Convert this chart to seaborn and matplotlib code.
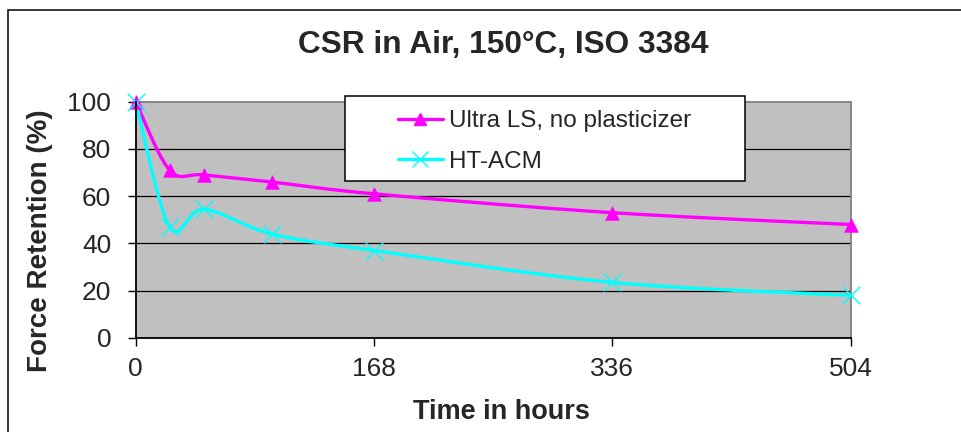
import numpy as np
import pandas as pd
import matplotlib
matplotlib.use("Agg")
import matplotlib.pyplot as plt
from matplotlib.lines import Line2D
from matplotlib.patches import Rectangle
import seaborn as sns

# data
hours = [0, 24, 48, 96, 168, 336, 504]
ultra_ls = [100, 71, 69, 66, 61, 53, 48]
ht_acm = [100, 47, 54.5, 44, 37, 23.5, 18]
series_names = ["Ultra LS, no plasticizer", "HT-ACM"]
x_ticks = [0, 168, 336, 504]
y_ticks = [0, 20, 40, 60, 80, 100]

MAGENTA = "#FF00FF"
CYAN = "#00FFFF"
W, H = 962, 432


def smooth(xs, ys, n=40):
    # Excel-style smoothed line: bezier segments, catmull-rom control points
    p = np.column_stack([xs, ys]).astype(float)
    p = np.vstack([p[0], p, p[-1]])
    out = []
    for i in range(1, len(p) - 2):
        p0, p1, p2, p3 = p[i - 1], p[i], p[i + 1], p[i + 2]
        c1 = p1 + (p2 - p0) / 6
        c2 = p2 - (p3 - p1) / 6
        t = np.linspace(0, 1, n)[:, None]
        seg = ((1 - t) ** 3) * p1 + 3 * ((1 - t) ** 2) * t * c1 + 3 * (1 - t) * t ** 2 * c2 + t ** 3 * p2
        out.append(seg if i == 1 else seg[1:])
    seg = np.vstack(out)
    return seg[:, 0], seg[:, 1]


sns.set_style("white")
plt.rcParams["font.family"] = ["Liberation Sans", "DejaVu Sans"]

fig = plt.figure(figsize=(W / 100, H / 100), dpi=100)
ax = fig.add_axes([135.7 / W, 1 - 337.9 / H, 715 / W, 236.2 / H])
ax.set_facecolor("#C0C0C0")

for vals, color in [(ultra_ls, MAGENTA), (ht_acm, CYAN)]:
    sx, sy = smooth(hours, vals)
    curve = pd.DataFrame({"x": sx, "y": sy})
    sns.lineplot(data=curve, x="x", y="y", sort=False, estimator=None,
                 color=color, linewidth=2.4, ax=ax, zorder=3)

pts = pd.DataFrame({"x": hours, "ultra": ultra_ls, "ht": ht_acm})
sns.scatterplot(data=pts, x="x", y="ultra", marker="^", s=95, color=MAGENTA,
                edgecolor=MAGENTA, linewidth=0.5, ax=ax, zorder=4, clip_on=False)
sns.scatterplot(data=pts, x="x", y="ht", marker="x", s=160, color=CYAN,
                linewidth=1.0, ax=ax, zorder=4, clip_on=False)

ax.set_xlim(0, 504)
ax.set_ylim(0, 100)
ax.set_xticks(x_ticks)
ax.set_yticks(y_ticks)
ax.set_xlabel("")
ax.set_ylabel("")
for yv in y_ticks[1:-1]:
    ax.axhline(yv, color="black", linewidth=0.9, zorder=1)

for side in ["left", "bottom"]:
    ax.spines[side].set_color("black")
    ax.spines[side].set_linewidth(1.3)
for side in ["top", "right"]:
    ax.spines[side].set_color("#808080")
    ax.spines[side].set_linewidth(1.3)
ax.spines["left"].set_zorder(5)

ax.tick_params(axis="y", direction="out", length=5.6, width=1, color="black",
               labelsize=19, pad=12, left=True)
ax.tick_params(axis="x", direction="out", length=5.8, width=1, color="black",
               labelsize=19, pad=8, bottom=True)

# legend: white framed box with handles drawn inside
fig.patches.append(Rectangle((345 / W, 1 - 180.7 / H), (745 - 345) / W, 85 / H,
                             transform=fig.transFigure, facecolor="white",
                             edgecolor="black", linewidth=1.1, zorder=5))
handles = [
    Line2D([], [], color=MAGENTA, linewidth=2.4, marker="^", markersize=9),
    Line2D([], [], color=CYAN, linewidth=2.4, marker="x", markersize=11, markeredgewidth=1.0),
]
leg = fig.legend(handles, series_names, loc="center left",
                 bbox_to_anchor=(398 / W, 1 - 141.5 / H), frameon=False,
                 fontsize=17.5, handlelength=1.85, handletextpad=0.25,
                 labelspacing=0.78, borderpad=0, borderaxespad=0)
leg.set_zorder(6)

fig.text(503.3 / W, 1 - 53.3 / H, "CSR in Air, 150°C, ISO 3384", ha="center",
         va="baseline", fontsize=22.8, fontweight="bold")
fig.text(501 / W, 1 - 419 / H, "Time in hours", ha="center", va="baseline",
         fontsize=19.5, fontweight="bold")
fig.text(40 / W, 1 - 240.5 / H, "Force Retention (%)", ha="center", va="center",
         rotation=90, fontsize=20, fontweight="bold")

# outer chart border
fig.patches.append(Rectangle((8 / W, -0.2), 2, 1.2 - 10 / H, transform=fig.transFigure,
                             facecolor="none", edgecolor="black", linewidth=1.1))

fig.savefig("out.png", dpi=100)
